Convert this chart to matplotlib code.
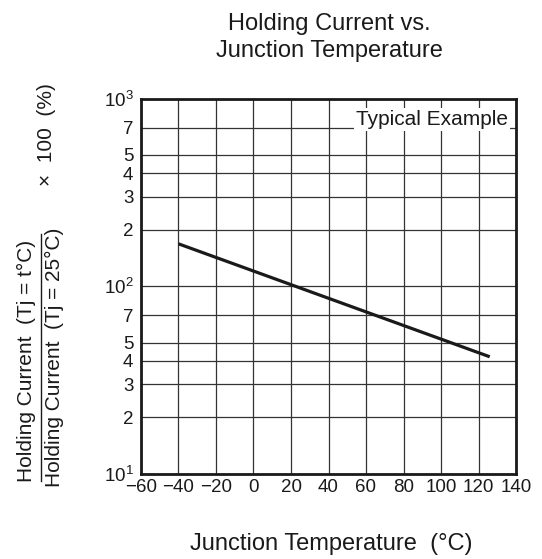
import matplotlib
matplotlib.use('Agg')
import matplotlib.pyplot as plt
from matplotlib.ticker import FixedLocator, FixedFormatter
from matplotlib.lines import Line2D

plt.rcParams['font.family'] = ['Liberation Sans', 'DejaVu Sans']
plt.rcParams['mathtext.fontset'] = 'custom'
plt.rcParams['mathtext.rm'] = 'Liberation Sans'
plt.rcParams['mathtext.it'] = 'Liberation Sans:italic'

# ---- data ----
temp = [-40, 126]          # junction temperature (°C)
hold = [168, 42]           # holding current ratio (%)
x_ticks = [-60, -40, -20, 0, 20, 40, 60, 80, 100, 120, 140]
x_labels = ['\u221260', '\u221240', '\u221220', '0', '20', '40', '60', '80', '100', '120', '140']
y_major = [10, 100, 1000]
y_major_labels = [r'$10^{1}$', r'$10^{2}$', r'$10^{3}$']
y_minor = [20, 30, 40, 50, 70, 200, 300, 400, 500, 700]
y_minor_labels = ['2', '3', '4', '5', '7', '2', '3', '4', '5', '7']

W, H = 542, 559
fig = plt.figure(figsize=(W / 100, H / 100), dpi=100)
ax = fig.add_axes([141 / W, 1 - 473.7 / H, (516 - 141) / W, (473.7 - 98.5) / H])

ax.set_yscale('log')
ax.set_ylim(10, 1000)
ax.set_xlim(-60, 140)
ax.set_xticks(x_ticks)
ax.set_xticklabels(x_labels)
ax.yaxis.set_major_locator(FixedLocator(y_major))
ax.yaxis.set_major_formatter(FixedFormatter(y_major_labels))
ax.yaxis.set_minor_locator(FixedLocator(y_minor))
ax.yaxis.set_minor_formatter(FixedFormatter(y_minor_labels))
ax.tick_params(which='both', length=0, labelsize=13.5, colors='#1a1a1a')
ax.tick_params(axis='y', which='both', pad=5.5)
ax.tick_params(axis='x', pad=3.5)

ax.grid(True, which='both', axis='y', color='#333333', lw=0.9)
ax.grid(True, which='major', axis='x', color='#333333', lw=0.9)
for s in ax.spines.values():
    s.set_linewidth(2.0)
    s.set_color('#1a1a1a')

ax.plot(temp, hold, color='#1a1a1a', lw=2.3, solid_capstyle='butt')

ax.text(0.979, 0.929, 'Typical Example', transform=ax.transAxes, ha='right',
        va='baseline', fontsize=15, color='#1a1a1a',
        bbox=dict(fc='white', ec='none', pad=1.5), zorder=4)

# titles
fig.text(329 / W, 1 - 30 / H, 'Holding Current vs.', ha='center', va='baseline',
         fontsize=17, color='#1a1a1a')
fig.text(329 / W, 1 - 57 / H, 'Junction Temperature', ha='center', va='baseline',
         fontsize=17, color='#1a1a1a')
fig.text(331 / W, 1 - 550 / H, 'Junction Temperature  (°C)', ha='center',
         va='baseline', fontsize=17, color='#1a1a1a')

# y label as fraction
fig.text(26 / W, 1 - 361 / H, 'Holding Current  (Tj = t°C)', rotation=90,
         ha='center', va='center', fontsize=15, color='#1a1a1a')
fig.text(54 / W, 1 - 357 / H, 'Holding Current  (Tj = 25°C)', rotation=90,
         ha='center', va='center', fontsize=15, color='#1a1a1a')
fig.add_artist(Line2D([41 / W, 41 / W], [1 - 481 / H, 1 - 234 / H],
                      transform=fig.transFigure, color='#1a1a1a', lw=1.0))
fig.text(46 / W, 1 - 135 / H, '×  100  (%)', rotation=90, ha='center',
         va='center', fontsize=15, color='#1a1a1a')

fig.savefig('out.png', dpi=100)
